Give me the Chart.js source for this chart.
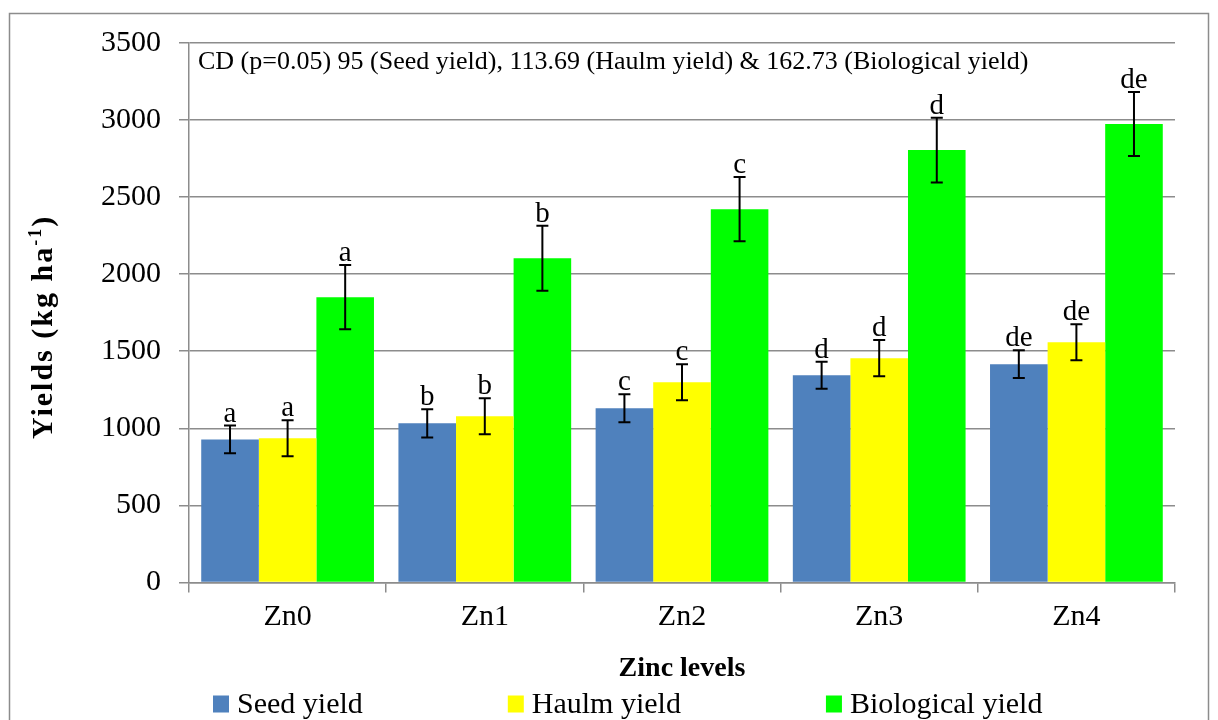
<!DOCTYPE html>
<html>
<head>
<meta charset="utf-8">
<script src="https://cdn.jsdelivr.net/npm/chart.js@4"></script>
<style>
  html, body { margin: 0; padding: 0; background: #fff; }
  #wrap { width: 1218px; height: 720px; position: relative; }
</style>
</head>
<body>
<div id="wrap"><canvas id="yieldChart" width="1218" height="720"></canvas></div>
<script>
// data
const levels = ['Zn0', 'Zn1', 'Zn2', 'Zn3', 'Zn4'];
const seedYield = [928, 1032, 1130, 1344, 1416];
const haulmYield = [935, 1078, 1299, 1455, 1558];
const bioYield = [1851, 2104, 2422, 2805, 2974];
const seedErr = [90, 91, 91, 88, 90];
const haulmErr = [117, 117, 117, 118, 117];
const bioErr = [208, 211, 208, 210, 208];
const seedLetters = ['a', 'b', 'c', 'd', 'de'];
const haulmLetters = ['a', 'b', 'c', 'd', 'de'];
const bioLetters = ['a', 'b', 'c', 'd', 'de'];
const yTicks = [0, 500, 1000, 1500, 2000, 2500, 3000, 3500];

const serif = "'Liberation Serif', 'Times New Roman', serif";
const gridGray = '#8c8c8c';

Chart.defaults.font.family = serif;
Chart.defaults.color = '#000';

const errors = [seedErr, haulmErr, bioErr];
const letters = [seedLetters, haulmLetters, bioLetters];

// error bars, letters, notes, y title and legend
const extras = {
  id: 'extras',
  beforeDraw(chart) {
    const ctx = chart.ctx;
    ctx.save();
    ctx.strokeStyle = gridGray;
    ctx.lineWidth = 1.5;
    ctx.strokeRect(9.5, 13.5, 1199, 720);
    ctx.restore();
  },
  afterDatasetsDraw(chart) {
    const ctx = chart.ctx;
    const y = chart.scales.y;
    const area = chart.chartArea;
    ctx.save();
    chart.data.datasets.forEach((ds, i) => {
      const meta = chart.getDatasetMeta(i);
      meta.data.forEach((bar, j) => {
        const v = ds.data[j];
        const e = errors[i][j];
        const top = y.getPixelForValue(v + e);
        const bot = y.getPixelForValue(v - e);
        ctx.strokeStyle = '#000';
        ctx.lineWidth = 2;
        ctx.beginPath();
        ctx.moveTo(bar.x, top); ctx.lineTo(bar.x, bot);
        ctx.moveTo(bar.x - 6, top); ctx.lineTo(bar.x + 6, top);
        ctx.moveTo(bar.x - 6, bot); ctx.lineTo(bar.x + 6, bot);
        ctx.stroke();
        ctx.fillStyle = '#000';
        ctx.font = '29px ' + serif;
        ctx.textAlign = 'center';
        ctx.textBaseline = 'alphabetic';
        ctx.fillText(letters[i][j], bar.x, top - 4);
      });
    });

    // CD note
    ctx.font = '26px ' + serif;
    ctx.textAlign = 'left';
    ctx.textBaseline = 'middle';
    ctx.fillText('CD (p=0.05) 95 (Seed yield), 113.69 (Haulm yield) & 162.73 (Biological yield)', area.left + 9, 62);

    // y title with superscript
    ctx.translate(52, 327);
    ctx.rotate(-Math.PI / 2);
    ctx.letterSpacing = '2px';
    const main = 'Yields (kg ha';
    const sup = '-1';
    const close = ')';
    ctx.font = 'bold 30px ' + serif;
    const w1 = ctx.measureText(main).width;
    const w3 = ctx.measureText(close).width;
    ctx.font = 'bold 18px ' + serif;
    const w2 = ctx.measureText(sup).width;
    const x0 = -(w1 + w2 + w3) / 2;
    ctx.textBaseline = 'alphabetic';
    ctx.font = 'bold 30px ' + serif;
    ctx.fillText(main, x0, 0);
    ctx.font = 'bold 18px ' + serif;
    ctx.fillText(sup, x0 + w1, -11);
    ctx.font = 'bold 30px ' + serif;
    ctx.fillText(close, x0 + w1 + w2, 0);
    ctx.restore();

    // legend
    ctx.save();
    ctx.font = '30px ' + serif;
    const gap = 145, boxW = 16, boxH = 17, boxGap = 8;
    let lx = 213;
    const ly = 704;
    chart.data.datasets.forEach(ds => {
      const tw = ctx.measureText(ds.label).width;
      ctx.fillStyle = ds.backgroundColor;
      ctx.fillRect(lx, ly - boxH / 2, boxW, boxH);
      ctx.fillStyle = '#000';
      ctx.textAlign = 'left';
      ctx.textBaseline = 'middle';
      ctx.fillText(ds.label, lx + boxW + boxGap, ly + 1);
      lx += boxW + boxGap + tw + gap;
    });
    ctx.restore();
  }
};

new Chart(document.getElementById('yieldChart'), {
  type: 'bar',
  data: {
    labels: levels,
    datasets: [
      { label: 'Seed yield', data: seedYield, backgroundColor: '#4f81bd' },
      { label: 'Haulm yield', data: haulmYield, backgroundColor: '#ffff00' },
      { label: 'Biological yield', data: bioYield, backgroundColor: '#00ff00' }
    ]
  },
  options: {
    responsive: false,
    animation: false,
    datasets: { bar: { barPercentage: 1.0, categoryPercentage: 0.876 } },
    layout: { padding: { left: 83, right: 43, top: 43, bottom: 34 } },
    plugins: { legend: { display: false }, tooltip: { enabled: false } },
    scales: {
      x: {
        grid: { drawOnChartArea: false, drawTicks: true, tickLength: 10, color: gridGray, lineWidth: 1.5 },
        border: { color: gridGray, width: 1.5 },
        ticks: { font: { size: 30 }, padding: 7, color: '#000' },
        title: { display: true, text: 'Zinc levels', font: { size: 28, weight: 'bold' }, padding: { top: 10, bottom: 0 }, color: '#000' }
      },
      y: {
        min: 0, max: 3500,
        afterBuildTicks(scale) { scale.ticks = yTicks.map(v => ({ value: v })); },
        grid: { color: gridGray, lineWidth: 1.5, tickLength: 10 },
        border: { color: gridGray, width: 1.5 },
        ticks: { font: { size: 30 }, padding: 18, color: '#000', callback: v => String(v) }
      }
    }
  },
  plugins: [extras]
});
</script>
</body>
</html>
